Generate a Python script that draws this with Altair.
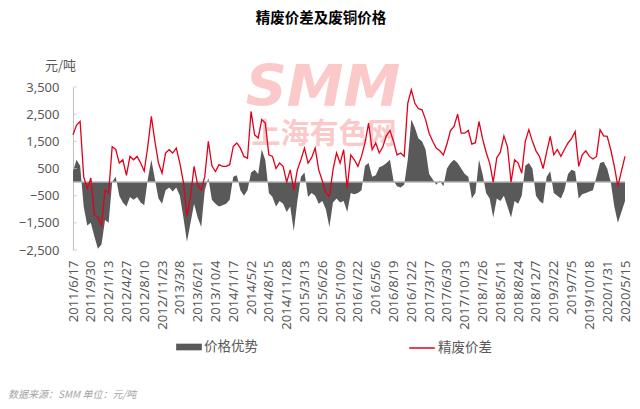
import altair as alt
import pandas as pd

# ---------------- data ----------------
start_date = "2011-06-17"
step_days = 21  # one reading every three weeks

# 精废价差 (red line), 元/吨
spread = [
    1740, 2100, 2230, 200, -250, 150, -1200, -1300, -1600, -300,
    -400, 1300, 1200, 700, 820, 250, 945, 820, 945, 700,
    400, 1310, 2420, 1500, 700, 330, 1070, 1190, 1070, 1250,
    700, 0, -1260, -530, 580, -100, -300, 200, 1500, 600,
    390, 640, 580, 580, 640, 1310, 1440, 1250, 945, 880,
    2600, 1740, 1620, 2300, 2170, 1000, 945, 500, 700, 580,
    0, 450, -300, 450, 820, 1250, 700, 900, 1250, 450,
    50, -400, -530, 450, 1070, 700, 1190, -220, 1000, 820,
    580, 945, 1440, 2170, 1190, 1440, 1070, 1300, 1700, 1900,
    1500, 1000, 1070, 945, 2900, 3400, 2900, 2700, 2660, 2300,
    1800, 1500, 1250, 1150, 1000, 1400, 1900, 2050, 2500, 1800,
    1800, 1900, 1400, 1450, 2230, 1600, 1100, 700, 0, 900,
    1100, 1700, 1300, 0, 820, 700, 330, 1500, 1930, 1500,
    1150, 945, 500, 1100, 1680, 1000, 1200, 950, 1200, 1440,
    1600, 1860, 580, 1000, 1150, 945, 850, 945, 1930, 1700,
    1680, 1190, 580, -150, 400, 945,
]

# 价格优势 (dark grey area), 元/吨
advantage = [
    400, 820, 600, -900, -1600, -1500, -2000, -2450, -2300, -1400,
    -1500, 0, 200, -500, -750, -900, -550, -650, -550, -750,
    -850, 100, 820, 100, -600, -800, -300, -200, -350, -200,
    -500, -1300, -2200, -1500, -800, -1300, -1650, -300, 150, -650,
    -800, -900, -850, -800, -650, 200, 250, -300, -500, -300,
    350, 450, 300, 1200, 800, -400, -550, -900, -700, -800,
    -1100, -900, -1800, -700, 200, 350, -550, -400, -500, -800,
    -700, -1000, -1650, -750, -600, -750, -700, -1100, -400, -450,
    -400, -300, 600, 700, 200, 250, 550, 600, 700, 820,
    50, -150, -200, -100, 820, 2300, 2000, 1600, 1500, 1200,
    300, 100, -100, 50, -150, 500, 700, 820, 700, 500,
    300, 200, -600, -400, 820, 300, -400, -600, -1300, -600,
    -700, -500, -900, -1300, -700, -800, -500, 600, 700, 500,
    -500, -700, -800, 200, 400, -400, -500, -600, -300, 300,
    450, 400, -600, -450, -400, -350, -300, 200, 700, 750,
    500, 0, -900, -1500, -1100, -700,
]

tick_labels = [
    "2011/6/17", "2011/9/30", "2012/1/13", "2012/4/27", "2012/8/10", "2012/11/23",
    "2013/3/8", "2013/6/21", "2013/10/4", "2014/1/17", "2014/5/2", "2014/8/15",
    "2014/11/28", "2015/3/13", "2015/6/26", "2015/10/9", "2016/1/22", "2016/5/6",
    "2016/8/19", "2016/12/2", "2017/3/17", "2017/6/30", "2017/10/13", "2018/1/26",
    "2018/5/11", "2018/8/24", "2018/12/7", "2019/3/22", "2019/7/5", "2019/10/18",
    "2020/1/31", "2020/5/15",
]
y_ticks = [-2500, -1500, -500, 500, 1500, 2500, 3500]
y_domain = [-2500, 3500]
zero_line = [0]

series_area = "价格优势"
series_line = "精废价差"
title_text = "精废价差及废铜价格"
unit_text = "元/吨"
source_text = "数据来源：SMM 单位：元/吨"
wm_logo = "SMM"
wm_name = "上海有色网"

# ---------------- styling ----------------
GREY = "#595959"
RED = "#e2001a"
AXIS_GREY = "#bfbfbf"
TXT = "#595959"
CJK = "Noto Sans CJK SC"
NUM = "Noto Sans"

dates = pd.date_range(start_date, periods=len(spread), freq=f"{step_days}D").strftime("%Y-%m-%d")
df = pd.DataFrame({"date": list(dates), "spread": spread, "adv": advantage})


def to_dt(s):
    y, m, d = (int(p) for p in s.split("/"))
    return alt.DateTime(year=y, month=m, date=d, utc=True)


x_scale = alt.Scale(type="utc", domain=[to_dt(tick_labels[0]), to_dt(tick_labels[-1])], nice=False)
y_scale = alt.Scale(domain=y_domain, nice=False, zero=False)

x_axis = alt.Axis(
    values=[to_dt(s) for s in tick_labels],
    labelExpr="utcFormat(datum.value, '%Y/%-m/%-d')",
    labelAngle=-90,
    labelAlign="right",
    labelBaseline="middle",
    labelPadding=10,
    labelFont=NUM,
    labelFontSize=13,
    labelColor=TXT,
    labelOverlap=False,
    labelFlush=False,
    ticks=False,
    domain=False,
    grid=False,
    title=None,
)

y_axis = alt.Axis(
    values=y_ticks,
    labelExpr="format(datum.value, ',')",
    ticks=False,
    domainColor=AXIS_GREY,
    domainWidth=1,
    labelFont=NUM,
    labelFontSize=13,
    labelColor=TXT,
    labelPadding=14,
    labelOverlap=False,
    labelFlush=False,
    grid=False,
    title=unit_text,
    titleAngle=0,
    titleX=-13,
    titleY=-22,
    titleAlign="center",
    titleBaseline="middle",
    titleFont=CJK,
    titleFontSize=13,
    titleFontWeight="normal",
    titleColor=TXT,
)

base = alt.Chart(df)

area = base.transform_calculate(s1=f"'{series_area}'").mark_area(interpolate="linear").encode(
    x=alt.X("date:T", scale=x_scale, axis=x_axis),
    y=alt.Y("adv:Q", scale=y_scale, axis=y_axis),
    color=alt.Color(
        "s1:N",
        scale=alt.Scale(domain=[series_area], range=[GREY]),
        legend=alt.Legend(
            orient="none", legendX=103, legendY=247, title=None, padding=0,
            symbolType="M-1,-0.26L1,-0.26L1,0.26L-1,0.26Z", symbolSize=660,
            symbolStrokeWidth=0, symbolOpacity=1,
            labelFont=CJK, labelFontSize=13.5, labelColor=TXT, labelOffset=2,
        ),
    ),
)

zero = alt.Chart(pd.DataFrame({"z": zero_line})).mark_rule(color="#b3b3b3", strokeWidth=1.5).encode(
    y=alt.Y("z:Q", scale=y_scale, axis=y_axis)
)

inner_ticks = alt.Chart(pd.DataFrame({"v": y_ticks})).mark_tick(
    color=AXIS_GREY, thickness=1, size=4, orient="horizontal"
).encode(y=alt.Y("v:Q", scale=y_scale, axis=y_axis), x=alt.value(2))

line = base.transform_calculate(s2=f"'{series_line}'").mark_line(strokeWidth=1.3).encode(
    x=alt.X("date:T", scale=x_scale, axis=x_axis),
    y=alt.Y("spread:Q", scale=y_scale, axis=y_axis),
    stroke=alt.Stroke(
        "s2:N",
        scale=alt.Scale(domain=[series_line], range=[RED]),
        legend=alt.Legend(
            orient="none", legendX=335, legendY=247, title=None, padding=0,
            symbolType="stroke", symbolSize=660, symbolStrokeWidth=1.5,
            labelFont=CJK, labelFontSize=13.5, labelColor=TXT, labelOffset=2,
        ),
    ),
)


def label(text, x, y, **kw):
    return alt.Chart(pd.DataFrame({"t": [text]})).mark_text(**kw).encode(
        text="t:N", x=alt.value(x), y=alt.value(y)
    )


wm1 = label(wm_logo, 250, 2, font="DejaVu Sans", fontSize=57, fontWeight="bold",
            fontStyle="italic", color="#fbc9c9", align="center", baseline="middle")
wm2 = label(wm_name, 251, 48, font=CJK, fontSize=29, fontWeight="bold",
            color="#fbc9c9", align="center", baseline="middle")
title = label(title_text, 248, -68, font=CJK, fontSize=14.5, fontWeight="bold",
              color="#000000", align="center", baseline="middle")
source = label(source_text, -65, 308, font=CJK, fontSize=10, fontStyle="italic",
               color="#a6a6a6", align="left", baseline="middle")

chart = alt.layer(wm1, wm2, area, zero, inner_ticks, line, title, source).resolve_scale(
    color="independent", stroke="independent"
).properties(
    width=552,
    height=163,
    padding={"left": 65, "top": 79, "right": 7, "bottom": 151},
    autosize=alt.AutoSizeParams(type="none"),
    background="white",
).configure_view(stroke=None)

chart.save("out.html", embed_options={"renderer": "svg", "actions": False})
